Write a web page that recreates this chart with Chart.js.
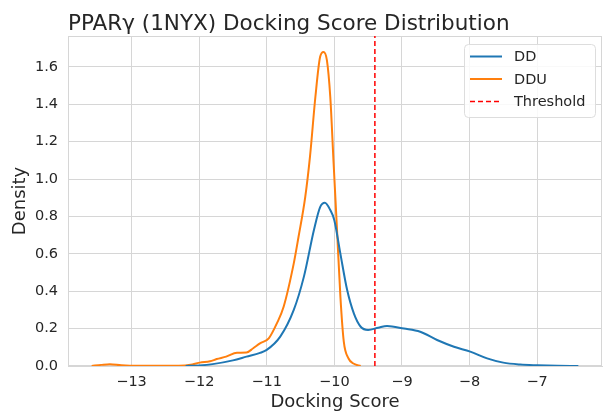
<!DOCTYPE html>
<html>
<head>
<meta charset="utf-8">
<script src="https://cdn.jsdelivr.net/npm/chart.js@4.4.1/dist/chart.umd.min.js"></script>
<style>
  html, body { margin: 0; padding: 0; background: #fff; }
</style>
</head>
<body>
<canvas id="kde" width="603" height="413"></canvas>
<script>
const titleText = 'PPARγ (1NYX) Docking Score Distribution';

// KDE curves, docking score vs density
const ddX = [-12.2, -12.0, -11.8, -11.5, -11.3, -11.1, -11.0, -10.8, -10.6, -10.45, -10.3, -10.21, -10.14, -10.06, -10.0,
  -9.91, -9.81, -9.71, -9.61, -9.5, -9.35, -9.22, -8.97, -8.73, -8.48, -8.23, -7.99, -7.74, -7.5, -7.25, -7.0, -6.7, -6.39];
const ddY = [0, 0.003, 0.01, 0.03, 0.05, 0.07, 0.086, 0.157, 0.30, 0.478, 0.73, 0.85, 0.873, 0.834, 0.78,
  0.60, 0.406, 0.28, 0.21, 0.193, 0.205, 0.214, 0.20, 0.183, 0.139, 0.103, 0.077, 0.041, 0.018, 0.008, 0.004, 0.001, 0];

const dduX = [-13.59, -13.45, -13.32, -13.15, -12.9, -12.3, -12.1, -11.99, -11.84, -11.74, -11.6, -11.44, -11.3, -11.2, -11.1,
  -10.97, -10.85, -10.75, -10.6, -10.53, -10.43, -10.36, -10.28, -10.21, -10.16, -10.11, -10.06, -10.01, -9.96, -9.91,
  -9.86, -9.79, -9.71, -9.61];
const dduY = [0, 0.006, 0.01, 0.004, 0.001, 0.001, 0.008, 0.018, 0.025, 0.037, 0.05, 0.071, 0.072, 0.095, 0.121,
  0.148, 0.228, 0.317, 0.549, 0.69, 0.905, 1.12, 1.44, 1.654, 1.68, 1.636, 1.44, 1.08, 0.727, 0.37,
  0.13, 0.04, 0.012, 0];

const threshold = -9.4;

const xTicks = [-13, -12, -11, -10, -9, -8, -7];
const yTicks = [0, 0.2, 0.4, 0.6, 0.8, 1.0, 1.2, 1.4, 1.6];
const xRange = [-13.94, -6.04];
const yRange = [0, 1.765];

const FONT = "'DejaVu Sans', sans-serif";
const GRID = '#d6d6d6';
const TEXT = '#262626';

const pts = (xs, ys) => xs.map((x, i) => ({ x: x, y: ys[i] }));
const minus = v => (v < 0 ? '\u2212' + Math.abs(v) : String(v));

// title, full frame and the boxed legend inside the axes
const decorations = {
  id: 'decorations',
  beforeDatasetsDraw(chart) {
    const a = chart.chartArea;
    const ctx = chart.ctx;
    ctx.save();
    ctx.strokeStyle = GRID;
    ctx.lineWidth = 1;
    ctx.strokeRect(a.left + 0.5, a.top + 0.5, a.right - a.left - 1, a.bottom - a.top - 1);
    ctx.restore();
  },
  afterDraw(chart) {
    const ctx = chart.ctx;
    ctx.save();
    ctx.fillStyle = TEXT;
    ctx.font = '21.5px ' + FONT;
    ctx.textAlign = 'left';
    ctx.textBaseline = 'alphabetic';
    ctx.fillText(titleText, 68, 29.5);

    // legend
    const bx = 464, by = 44, bw = 131, bh = 73;
    ctx.beginPath();
    ctx.roundRect(bx + 0.5, by + 0.5, bw, bh, 4);
    ctx.fillStyle = 'rgba(255,255,255,0.85)';
    ctx.fill();
    ctx.strokeStyle = '#dddddd';
    ctx.lineWidth = 1;
    ctx.stroke();

    ctx.font = '14.5px ' + FONT;
    ctx.textBaseline = 'middle';
    chart.data.datasets.forEach((ds, i) => {
      const y = by + 12.5 + i * 22.5;
      ctx.beginPath();
      ctx.setLineDash(ds.borderDash || []);
      ctx.strokeStyle = ds.borderColor;
      ctx.lineWidth = ds.borderWidth;
      ctx.moveTo(bx + 6, y);
      ctx.lineTo(bx + 38, y);
      ctx.stroke();
      ctx.setLineDash([]);
      ctx.fillStyle = TEXT;
      ctx.fillText(ds.label, bx + 50, y + 1);
    });
    ctx.restore();
  }
};

new Chart(document.getElementById('kde'), {
  type: 'line',
  data: {
    datasets: [
      {
        label: 'DD',
        data: pts(ddX, ddY),
        borderColor: '#1f77b4',
        borderWidth: 2,
        pointRadius: 0,
        cubicInterpolationMode: 'monotone'
      },
      {
        label: 'DDU',
        data: pts(dduX, dduY),
        borderColor: '#ff7f0e',
        borderWidth: 2,
        pointRadius: 0,
        cubicInterpolationMode: 'monotone'
      },
      {
        label: 'Threshold',
        data: [{ x: threshold, y: yRange[0] }, { x: threshold, y: yRange[1] }],
        borderColor: 'red',
        borderWidth: 1.5,
        borderDash: [5, 3],
        pointRadius: 0
      }
    ]
  },
  options: {
    responsive: false,
    animation: false,
    layout: { padding: { top: 36, right: 1, left: 0, bottom: 0 } },
    plugins: {
      legend: { display: false },
      title: { display: false },
      tooltip: { enabled: false }
    },
    scales: {
      x: {
        type: 'linear',
        min: xRange[0],
        max: xRange[1],
        afterBuildTicks: s => { s.ticks = xTicks.map(v => ({ value: v })); },
        afterFit: s => { s.height = 47; },
        grid: { color: GRID, lineWidth: 1, drawTicks: false },
        border: { color: GRID },
        ticks: {
          color: TEXT,
          font: { family: FONT, size: 14.5 },
          padding: 8,
          maxRotation: 0,
          callback: v => minus(v)
        },
        title: {
          display: true,
          text: 'Docking Score',
          color: TEXT,
          font: { family: FONT, size: 18 },
          padding: { top: 0, bottom: 0 }
        }
      },
      y: {
        min: yRange[0],
        max: yRange[1],
        afterBuildTicks: s => { s.ticks = yTicks.map(v => ({ value: v })); },
        afterFit: s => { s.width = 68; },
        grid: { color: GRID, lineWidth: 1, drawTicks: false },
        border: { color: GRID },
        ticks: {
          color: TEXT,
          font: { family: FONT, size: 14.5 },
          padding: 10,
          callback: v => v.toFixed(1)
        },
        title: {
          display: true,
          text: 'Density',
          color: TEXT,
          font: { family: FONT, size: 18 },
          padding: { top: 10, bottom: 0 }
        }
      }
    }
  },
  plugins: [decorations]
});
</script>
</body>
</html>
